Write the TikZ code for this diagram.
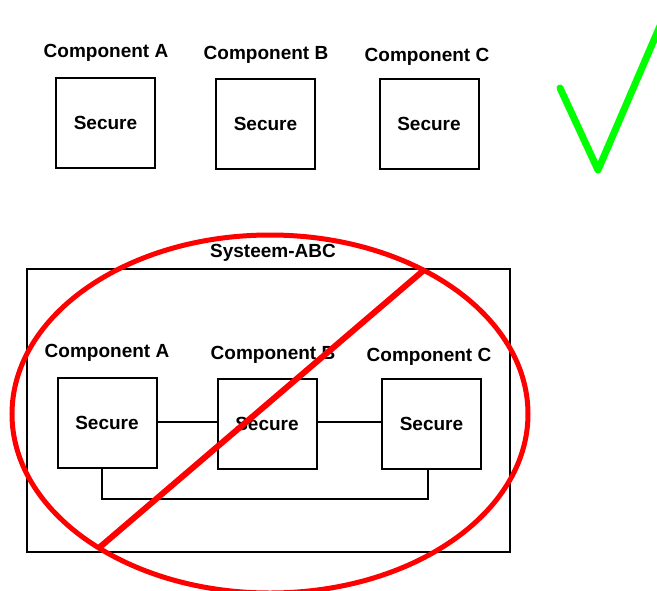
\documentclass[tikz,border=0pt]{standalone}
\usepackage{fontspec}
\setmainfont{Liberation Sans}
\usetikzlibrary{positioning}

\begin{document}
\begin{tikzpicture}[x=1pt,y=-1pt,line width=2pt,font=\fontsize{19}{21}\selectfont\bfseries]
\tikzstyle{comp}=[draw,minimum width=99pt,minimum height=90pt,inner sep=0pt]
\tikzstyle{lbl}=[inner sep=0pt]
\tikzstyle{cross}=[draw=red,line width=5pt]
\useasboundingbox (0,0) rectangle (657,590);
% separate components, each one secure
\node[comp] (ta) at (105.5,122.5) {Secure};
\node[comp] (tb) at (265.5,124) {Secure};
\node[comp] (tc) at (429,123.5) {Secure};
\node[lbl] (tla) at (106,53) {Component A};
\node[lbl] (tlb) at (266,55) {Component B};
\node[lbl] (tlc) at (427,57) {Component C};
\draw[draw=green,line width=7pt,line cap=round,line join=round] (560,88) -- (598,170) -- (660,26);
% the coupled system
\node[draw,minimum width=483pt,minimum height=283pt] (sys) at (268.5,410.5) {};
\node[lbl] (syslbl) at (273,253) {Systeem-ABC};
\node[comp] (ba) at (107,422.5) {Secure};
\node[comp] (bb) at (267,424) {Secure};
\node[comp] (bc) at (431.5,424) {Secure};
\node[lbl] (bla) at (107,353) {Component A};
\node[lbl] (blb) at (273,355) {Component B};
\node[lbl] (blc) at (429,357) {Component C};
\draw (ba.east |- 0,422) -- (bb.west |- 0,422);
\draw (bb.east |- 0,422) -- (bc.west |- 0,422);
\draw ([xshift=-5pt]ba.south) -- ++(0,30) -| ([xshift=-3.5pt]bc.south);
% struck out
\coordinate (s1) at (424,270);
\coordinate (s2) at (100,547);
\draw[cross] (270,414) ellipse [x radius=258, y radius=179];
\draw[cross,line width=6pt] (s1) -- (s2);
\end{tikzpicture}
\end{document}
